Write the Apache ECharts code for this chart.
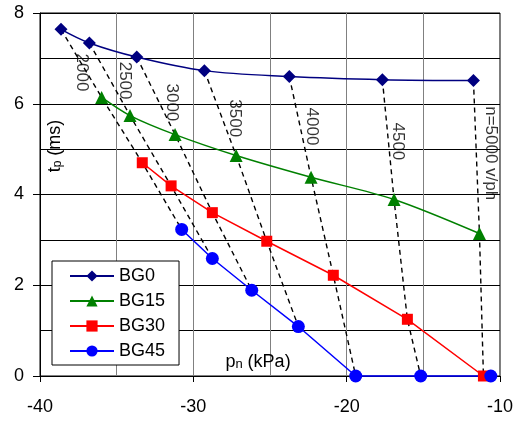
<!DOCTYPE html>
<html>
<head>
<meta charset="utf-8">
<script src="https://cdn.jsdelivr.net/npm/echarts@6/dist/echarts.min.js"></script>
<style>html,body{margin:0;padding:0;background:#fff;}#c{width:516px;height:421px;}</style>
</head>
<body>
<div id="c"></div>
<script>
// Data
var seriesNames = ['BG0', 'BG15', 'BG30', 'BG45'];
var bg0X = [-38.63, -36.78, -33.69, -29.28, -23.74, -17.67, -11.73];
var bg0Y = [7.64, 7.34, 7.03, 6.73, 6.60, 6.53, 6.51];
var bg15X = [-35.98, -34.13, -31.19, -27.21, -22.32, -16.91, -11.34];
var bg15Y = [6.14, 5.74, 5.32, 4.86, 4.38, 3.89, 3.14];
var bg30X = [-33.33, -31.45, -28.76, -25.21, -20.87, -16.04, -11.08];
var bg30Y = [4.70, 4.19, 3.60, 2.97, 2.22, 1.25, 0];
var bg45X = [-30.76, -28.76, -26.19, -23.15, -19.41, -15.17, -10.60];
var bg45Y = [3.23, 2.59, 1.89, 1.09, 0, 0, 0];
var speedLabels = ['2000', '2500', '3000', '3500', '4000', '4500', 'n=5000 v/ph'];
var speedLabelX = [-37.29, -34.46, -31.39, -27.28, -22.26, -16.65, -10.58];
var speedLabelY = [6.69, 6.51, 6.03, 5.68, 5.50, 5.17, 4.91];

var FONT = "'Liberation Sans', Arial, sans-serif";
function pairs(xs, ys) { return xs.map(function (x, i) { return [x, ys[i]]; }); }
var allX = [bg0X, bg15X, bg30X, bg45X];
var allY = [bg0Y, bg15Y, bg30Y, bg45Y];

var series = [];
// constant-speed dashed lines
for (var i = 0; i < bg0X.length; i++) {
  var d = [];
  for (var s = 0; s < 4; s++) d.push([allX[s][i], allY[s][i]]);
  series.push({
    type: 'line', data: d, symbol: 'none', silent: true, z: 1,
    lineStyle: { color: '#000', width: 1.4, type: [5, 4] }
  });
}
var styles = [
  { color: '#000080', symbol: 'diamond', size: 13, smooth: 0.35 },
  { color: '#008000', symbol: 'triangle', size: 13, smooth: 0.3 },
  { color: '#ff0000', symbol: 'rect', size: 11, smooth: false },
  { color: '#0000ff', symbol: 'circle', size: 13, smooth: false }
];
for (var k = 0; k < 4; k++) {
  series.push({
    name: seriesNames[k], type: 'line', data: pairs(allX[k], allY[k]),
    symbol: styles[k].symbol, symbolSize: styles[k].size, smooth: styles[k].smooth,
    showAllSymbol: true, clip: false, z: 3,
    lineStyle: { color: styles[k].color, width: 1.5 },
    itemStyle: { color: styles[k].color, borderWidth: 0 }
  });
}
series.push({
  type: 'scatter', data: pairs(speedLabelX, speedLabelY), symbolSize: 0, silent: true, z: 4,
  label: {
    show: true, position: 'inside', rotate: -90, color: '#000',
    fontFamily: FONT, fontSize: 17,
    formatter: function (p) { return speedLabels[p.dataIndex]; }
  }
});

var chart = echarts.init(document.getElementById('c'), null, { renderer: 'canvas' });
chart.setOption({
  animation: false,
  backgroundColor: '#fff',
  grid: { left: 40, right: 16, top: 13, bottom: 45, show: true, borderColor: '#000', borderWidth: 1, backgroundColor: 'transparent' },
  xAxis: {
    type: 'value', min: -40, max: -10, interval: 10,
    axisLine: { show: true, onZero: false, lineStyle: { color: '#000', width: 1 } },
    axisTick: { show: true, length: 6, lineStyle: { color: '#000' } },
    axisLabel: { color: '#000', fontFamily: FONT, fontSize: 18, margin: 22 },
    splitLine: { show: true, lineStyle: { color: '#808080', width: 1 } },
    minorTick: { show: false, splitNumber: 2 },
    minorSplitLine: { show: true, lineStyle: { color: '#808080', width: 1 } }
  },
  yAxis: {
    type: 'value', min: 0, max: 8, interval: 2,
    axisLine: { show: true, lineStyle: { color: '#000', width: 1 } },
    axisTick: { show: true, length: 7, lineStyle: { color: '#000' } },
    axisLabel: { color: '#000', fontFamily: FONT, fontSize: 18, margin: 16 },
    splitLine: { show: true, lineStyle: { color: '#000', width: 1 } },
    minorTick: { show: false, splitNumber: 2 },
    minorSplitLine: { show: true, lineStyle: { color: '#000', width: 1 } }
  },
  legend: {
    data: seriesNames, orient: 'vertical', left: 52, top: 261, z: 10,
    backgroundColor: '#fff', borderColor: '#000', borderWidth: 1, borderRadius: 0,
    padding: [6, 14, 5, 17], itemGap: 7, itemWidth: 44, itemHeight: 14,
    textStyle: { color: '#000', fontFamily: FONT, fontSize: 18 }
  },
  graphic: [
    {
      type: 'text', x: 55, y: 146, rotation: Math.PI / 2, z: 20,
      style: {
        text: '{a|t}{s|p}{a| (ms)}', align: 'center', verticalAlign: 'middle',
        rich: {
          a: { fontFamily: FONT, fontSize: 18, lineHeight: 18, fill: '#000', verticalAlign: 'bottom' },
          s: { fontFamily: FONT, fontSize: 12, lineHeight: 13, fill: '#000', verticalAlign: 'bottom' }
        }
      }
    },
    {
      type: 'text', x: 258, y: 362, z: 20,
      style: {
        text: '{a|p}{s|n}{a| (kPa)}', align: 'center', verticalAlign: 'middle',
        rich: {
          a: { fontFamily: FONT, fontSize: 18, lineHeight: 18, fill: '#000', verticalAlign: 'bottom' },
          s: { fontFamily: FONT, fontSize: 13, lineHeight: 14, fill: '#000', verticalAlign: 'bottom' }
        }
      }
    }
  ],
  series: series
});
</script>
</body>
</html>
